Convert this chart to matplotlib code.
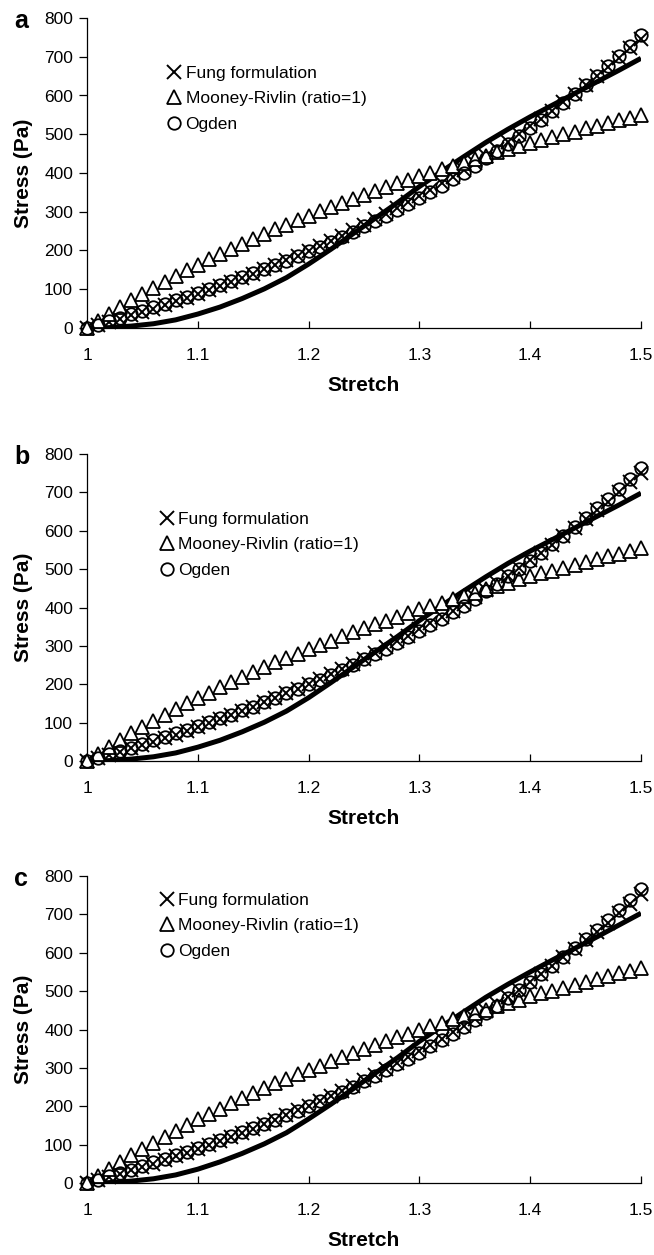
import matplotlib

matplotlib.use("Agg")
import matplotlib.pyplot as plt

plt.rcParams["font.family"] = ["Liberation Sans", "DejaVu Sans"]

# stretch values of the model points (one every 0.01)
stretch = [1.00, 1.01, 1.02, 1.03, 1.04, 1.05, 1.06, 1.07, 1.08, 1.09,
           1.10, 1.11, 1.12, 1.13, 1.14, 1.15, 1.16, 1.17, 1.18, 1.19,
           1.20, 1.21, 1.22, 1.23, 1.24, 1.25, 1.26, 1.27, 1.28, 1.29,
           1.30, 1.31, 1.32, 1.33, 1.34, 1.35, 1.36, 1.37, 1.38, 1.39,
           1.40, 1.41, 1.42, 1.43, 1.44, 1.45, 1.46, 1.47, 1.48, 1.49, 1.50]
# stretch values of the solid curve
stretch_curve = [1.00, 1.02, 1.04, 1.06, 1.08, 1.10, 1.12, 1.14, 1.16, 1.18,
                 1.20, 1.22, 1.24, 1.26, 1.28, 1.30, 1.32, 1.34, 1.36, 1.38,
                 1.40, 1.42, 1.44, 1.46, 1.48, 1.50]

# panel a
fung_a = [0, 8, 16, 24, 33, 41, 50, 59, 69, 78, 88, 98, 108, 119, 129, 140, 152,
          163, 175, 187, 199, 212, 225, 238, 252, 266, 280, 295, 310, 325, 341,
          357, 373, 390, 407, 425, 443, 462, 481, 500, 520, 540, 561, 583, 604,
          627, 650, 673, 697, 722, 747]
mooney_a = [0, 18, 36, 54, 71, 87, 103, 119, 134, 149, 163, 177, 191, 204, 217,
            230, 243, 255, 267, 278, 290, 301, 312, 322, 333, 343, 353, 363, 373,
            382, 392, 401, 410, 419, 427, 436, 444, 453, 461, 469, 477, 485, 492,
            500, 507, 515, 522, 529, 536, 543, 550]
ogden_a = [0, 9, 17, 26, 35, 44, 53, 62, 72, 81, 91, 100, 110, 120, 131, 141, 152,
           163, 174, 186, 198, 210, 222, 235, 248, 262, 276, 290, 305, 320, 335,
           351, 367, 384, 401, 419, 438, 456, 476, 496, 516, 537, 559, 581, 604,
           627, 651, 676, 702, 728, 755]
curve_a = [0, 1, 5, 11, 21, 36, 54, 76, 101, 130, 165, 203, 243, 283, 323, 365,
           404, 442, 479, 513, 545, 575, 605, 635, 665, 696]

# panel b
fung_b = [0, 8, 16, 24, 33, 41, 50, 59, 69, 79, 88, 98, 109, 120, 130, 141, 153,
          164, 176, 188, 200, 213, 226, 239, 253, 267, 281, 296, 312, 327, 343,
          359, 375, 392, 409, 427, 445, 464, 483, 503, 523, 543, 564, 586, 607,
          630, 653, 676, 700, 726, 751]
mooney_b = [0, 18, 36, 54, 72, 88, 104, 120, 135, 150, 164, 178, 193, 206, 219,
            232, 245, 257, 269, 280, 292, 303, 314, 325, 336, 346, 356, 366, 376,
            385, 395, 404, 413, 422, 430, 439, 448, 457, 465, 473, 481, 489, 496,
            504, 511, 519, 526, 533, 540, 547, 554]
ogden_b = [0, 9, 17, 26, 35, 44, 54, 63, 73, 82, 92, 101, 111, 121, 132, 142, 154,
           165, 176, 188, 200, 212, 224, 237, 250, 265, 279, 293, 308, 323, 338,
           355, 371, 388, 405, 423, 442, 461, 481, 501, 521, 542, 565, 587, 610,
           633, 658, 683, 709, 735, 763]
curve_b = [0, 1, 5, 11, 21, 36, 54, 76, 101, 130, 165, 204, 244, 284, 324, 366,
           405, 443, 480, 515, 547, 577, 607, 637, 667, 698]

# panel c
fung_c = [0, 8, 16, 24, 33, 41, 50, 59, 70, 79, 89, 99, 109, 120, 130, 141, 153,
          164, 176, 189, 201, 214, 227, 240, 254, 268, 282, 297, 312, 328, 344,
          360, 376, 393, 410, 428, 447, 466, 485, 504, 524, 544, 565, 588, 609,
          632, 655, 678, 703, 728, 753]
mooney_c = [0, 18, 37, 55, 72, 89, 105, 121, 136, 152, 166, 180, 194, 208, 221,
            234, 247, 260, 272, 283, 295, 306, 318, 328, 339, 349, 359, 370, 380,
            389, 399, 408, 417, 427, 435, 444, 452, 461, 469, 477, 486, 494, 501,
            509, 516, 524, 531, 539, 546, 553, 560]
ogden_c = [0, 9, 17, 26, 35, 45, 54, 63, 73, 82, 92, 101, 111, 122, 133, 143, 154,
           165, 176, 188, 201, 213, 225, 238, 251, 265, 280, 294, 309, 324, 339,
           356, 372, 389, 406, 424, 444, 462, 482, 502, 523, 544, 566, 589, 612,
           635, 659, 685, 711, 737, 765]
curve_c = [0, 1, 5, 11, 21, 36, 55, 77, 102, 131, 167, 205, 245, 286, 326, 369,
           408, 446, 484, 518, 550, 581, 611, 641, 672, 703]

x_ticks = [1.0, 1.1, 1.2, 1.3, 1.4, 1.5]
x_tick_labels = ["1", "1.1", "1.2", "1.3", "1.4", "1.5"]
y_ticks = [0, 100, 200, 300, 400, 500, 600, 700, 800]
legend_labels = ["Fung formulation", "Mooney-Rivlin (ratio=1)", "Ogden"]

FIG_W, FIG_H = 654, 1255
# axes boxes in pixels: left, top, right, bottom
boxes = [(87, 18, 641, 328), (87, 454, 641, 761), (87, 876, 641, 1183)]
legend_anchors = [(0.145, 0.846), (0.131, 0.812), (0.131, 0.946)]
panels = [
    ("a", fung_a, mooney_a, ogden_a, curve_a),
    ("b", fung_b, mooney_b, ogden_b, curve_b),
    ("c", fung_c, mooney_c, ogden_c, curve_c),
]


def draw_panel(fig, box, anchor, letter, fung, mooney, ogden, curve):
    left, top, right, bottom = box
    ax = fig.add_axes([left / FIG_W, 1 - bottom / FIG_H,
                       (right - left) / FIG_W, (bottom - top) / FIG_H])
    ax.plot(stretch_curve, curve, color="black", lw=3.6, solid_capstyle="butt", zorder=2)
    h_fung, = ax.plot(stretch, fung, ls="none", marker="x", ms=9.5, mew=1.4,
                      color="black", clip_on=False, zorder=3)
    h_mooney, = ax.plot(stretch, mooney, ls="none", marker="^", ms=10.5, mew=1.3,
                        mfc="white", mec="black", clip_on=False, zorder=3)
    h_ogden, = ax.plot(stretch, ogden, ls="none", marker="o", ms=9, mew=1.3,
                       mfc="none", mec="black", clip_on=False, zorder=4)

    ax.set_xlim(1.0, 1.5)
    ax.set_ylim(0, 800)
    ax.set_xticks(x_ticks)
    ax.set_xticklabels(x_tick_labels)
    ax.set_yticks(y_ticks)
    ax.spines[["top", "right"]].set_visible(False)
    for side in ("left", "bottom"):
        ax.spines[side].set_linewidth(0.9)
    ax.tick_params(axis="x", direction="in", length=5, width=0.9, pad=14.5, labelsize=12.5)
    ax.tick_params(axis="y", direction="out", length=6, width=0.9, pad=4, labelsize=12.5)
    ax.set_xlabel("Stretch", fontsize=15, fontweight="bold", labelpad=9)
    ax.set_ylabel("Stress (Pa)", fontsize=15, fontweight="bold", labelpad=8)

    ax.legend([h_fung, h_mooney, h_ogden], legend_labels, loc="upper left",
              bbox_to_anchor=anchor, frameon=False, fontsize=12.5,
              handlelength=0.8, handletextpad=0.25, labelspacing=0.6,
              borderpad=0, borderaxespad=0)
    fig.text(14 / FIG_W, 1 - (top + 10) / FIG_H, letter, fontsize=18,
             fontweight="bold", ha="left", va="baseline")
    return ax


fig = plt.figure(figsize=(FIG_W / 100, FIG_H / 100), dpi=100)
for box, anchor, (letter, fung, mooney, ogden, curve) in zip(boxes, legend_anchors, panels):
    draw_panel(fig, box, anchor, letter, fung, mooney, ogden, curve)

fig.savefig("out.png", dpi=100)
plt.close(fig)
